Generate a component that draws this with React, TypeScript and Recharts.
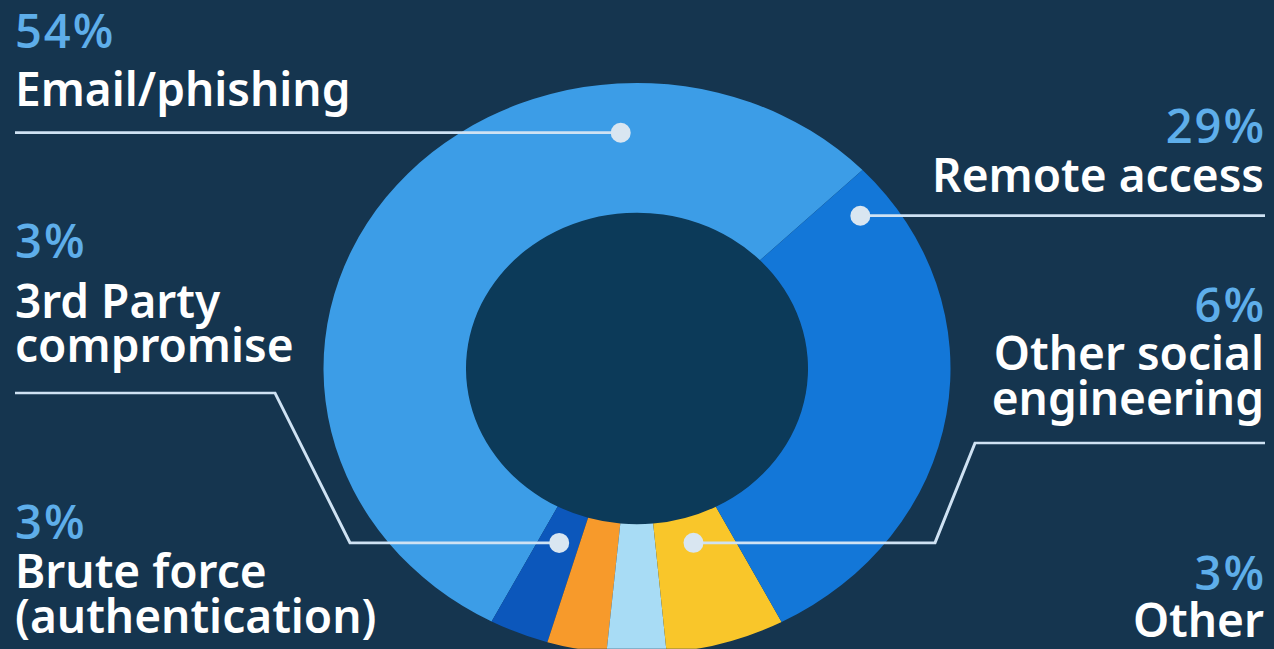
import { PieChart, Pie, Cell } from "recharts"

const categories = [
  "Email/phishing",
  "3rd Party compromise",
  "Brute force (authentication)",
  "Other",
  "Other social engineering",
  "Remote access",
]
const shares = [54, 3, 3, 3, 6, 29]
const labelLines = [
  ["Email/phishing"],
  ["3rd Party", "compromise"],
  ["Brute force", "(authentication)"],
  ["Other"],
  ["Other social", "engineering"],
  ["Remote access"],
]

const data = categories.map((name, i) => ({ name, value: shares[i] }))

const COLORS = ["#3c9de7", "#0c57bb", "#f79a2b", "#a8dcf5", "#f9c62a", "#1377d8"]
const BG = "#15354f"
const HOLE = "#0c3a59"
const LINE = "#cfe2f3"
const PCT = "#5eaeea"

const W = 1274
const H = 649
// the original is stretched sideways, so the pie is squeezed vertically
const K = 0.911
const CX = 637
const CY = 368.5
const OUTER = 313.5
const INNER = 171

// label blocks, screen coords (baselines)
const labelPos = [
  { side: "left", pctY: 48, ys: [106] },
  { side: "left", pctY: 258, ys: [318, 362] },
  { side: "left", pctY: 539, ys: [588, 633] },
  { side: "right", pctY: 590, ys: [637] },
  { side: "right", pctY: 322, ys: [370, 415] },
  { side: "right", pctY: 143, ys: [192] },
]

// leader lines: dot on the ring, then a path out to the label (null y = dot's y)
type Pt = [number, number | null]
const leaders: ({ angle?: number; depth: number; path: Pt[] } | null)[] = [
  { angle: 93.6, depth: 0.62, path: [[15, null]] },
  { depth: 0.25, path: [[350, null], [275, 393], [15, 393]] },
  null,
  null,
  { depth: 0.2, path: [[935, null], [975, 443], [1265, 443]] },
  { angle: 36.9, depth: 0.76, path: [[1265, null]] },
]

const RAD = Math.PI / 180

function renderLeader(props: any) {
  const { cx, cy, midAngle, innerRadius, outerRadius, name } = props
  const i = categories.indexOf(name)
  const ld = leaders[i]
  if (!ld) return null
  const a = (ld.angle ?? midAngle) * RAD
  const r = innerRadius + ld.depth * (outerRadius - innerRadius)
  const x = cx + r * Math.cos(a)
  const y = cy - r * Math.sin(a)
  const pts = [[x, y], ...ld.path.map(([px, py]) => [px, py == null ? y : py / K])]
  return (
    <g key={`leader-${i}`}>
      <polyline
        points={pts.map((p) => p.join(",")).join(" ")}
        fill="none"
        stroke={LINE}
        strokeWidth={3}
      />
      <ellipse cx={x} cy={y} rx={10} ry={10 / K} fill="#d9e6f1" />
    </g>
  )
}

export default function App() {
  return (
    <div
      style={{
        position: "absolute",
        left: 0,
        top: 0,
        width: W,
        height: H,
        overflow: "hidden",
        background: BG,
      }}
    >
      <div style={{ position: "absolute", left: 0, top: 0, transform: `scaleY(${K})`, transformOrigin: "0 0" }}>
        <PieChart width={W} height={Math.round(H / K)} margin={{ top: 0, right: 0, bottom: 0, left: 0 }}>
          <Pie
            data={[{ name: "hole", value: 1 }]}
            dataKey="value"
            cx={CX}
            cy={CY / K}
            outerRadius={INNER}
            innerRadius={0}
            fill={HOLE}
            stroke="none"
            isAnimationActive={false}
          />
          <Pie
            data={data}
            dataKey="value"
            nameKey="name"
            cx={CX}
            cy={CY / K}
            innerRadius={INNER}
            outerRadius={OUTER}
            startAngle={44}
            endAngle={404}
            stroke="none"
            label={renderLeader}
            labelLine={false}
            isAnimationActive={false}
          >
            {data.map((d, i) => (
              <Cell key={d.name} fill={COLORS[i]} stroke="none" />
            ))}
          </Pie>
        </PieChart>
      </div>
      <svg width={W} height={H} style={{ position: "absolute", left: 0, top: 0 }}>
        {labelPos.map((p, i) => {
          const left = p.side === "left"
          const x = left ? 15 : 1264
          const anchor = left ? "start" : "end"
          return (
            <g key={categories[i]} fontWeight={600}>
              <text
                x={left ? x : x + 2}
                y={p.pctY}
                textAnchor={anchor}
                fill={PCT}
                fontFamily="'Open Sans', sans-serif"
                fontSize={47}
                letterSpacing={2}
              >
                {shares[i]}%
              </text>
              {labelLines[i].map((t, j) => (
                <text
                  key={t}
                  x={x}
                  y={p.ys[j]}
                  textAnchor={anchor}
                  fill="#ffffff"
                  fontFamily="'Noto Sans', sans-serif"
                  fontSize={46}
                >
                  {t}
                </text>
              ))}
            </g>
          )
        })}
      </svg>
    </div>
  )
}
